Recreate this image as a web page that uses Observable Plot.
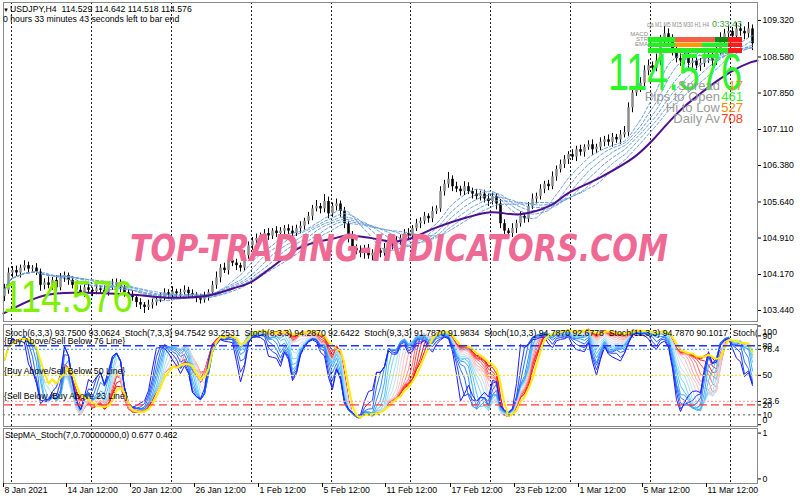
<!DOCTYPE html>
<html><head><meta charset="utf-8">
<script src="https://cdn.jsdelivr.net/npm/d3@7"></script>
<script src="https://cdn.jsdelivr.net/npm/@observablehq/plot@0.6"></script>
<style>
body{margin:0;background:#fff;}
#wrap{position:relative;width:800px;height:500px;overflow:hidden;background:#fff;}
#wrap svg{position:absolute;left:0;}
</style></head><body><div id="wrap"></div>
<script>
// ---------- data ----------
const open0 = 103.72;
const closes = `103.85 104.20 104.25 104.20 104.30 104.35 104.28 104.30 104.22 103.95
104.00 103.95 104.05 103.90 104.10 104.15 104.05 103.95 103.85 103.80
103.90 103.85 103.82 103.88 103.85 103.80 103.90 103.95 104.00 103.90
103.80 103.75 103.70 103.60 103.55 103.50 103.55 103.60 103.65 103.70
103.80 103.75 103.82 103.78 103.80 103.85 103.78 103.75 103.70 103.65
103.72 103.80 103.95 104.10 104.30 104.25 104.45 104.40 104.35 104.30
104.55 104.75 104.85 104.90 104.95 105.00 104.95 105.05 105.00 105.05
105.10 105.05 105.00 105.10 105.15 105.25 105.35 105.50 105.55 105.50
105.65 105.40 105.55 105.60 105.45 105.20 104.95 104.70 104.65 104.60
104.70 104.55 104.60 104.65 104.60 104.70 104.80 104.75 104.85 104.90
105.00 104.95 105.10 105.20 105.25 105.35 105.30 105.45 105.50 105.85
106.00 106.10 105.95 105.90 105.85 105.95 105.85 105.80 105.75 105.80
105.70 105.65 105.75 105.60 105.20 105.05 105.00 105.10 105.20 105.35
105.30 105.55 105.70 105.75 105.90 106.00 105.95 106.15 106.30 106.40
106.50 106.60 106.55 106.70 106.65 106.75 106.80 106.70 106.75 106.85
106.90 106.85 106.95 106.90 107.00 107.05 107.55 107.85 107.95 108.05
108.30 108.40 108.35 108.50 108.90 109.05 108.95 108.70 108.55 108.50
108.60 108.45 108.50 108.40 108.45 108.55 108.60 108.50 108.70 108.95
109.05 109.10 109.00 109.15 109.10 109.05 109.15 108.85`.trim().split(/\s+/).map(Number);
// wick lengths in pips (0.01)
const upperWick = `12 10 8 9 6 10 7 5 9 6 8 12 6 10 9 7 5 8 6 9 7 10 5 8 6 9 7 12 8 6 5 7 9 6 8 5 10 7 6 9
8 6 10 5 7 9 6 8 5 7 9 6 8 12 7 10 6 9 8 5 10 8 7 9 6 8 10 5 9 7 6 8 10 7 9 6 8 7 12 6
14 9 7 10 6 8 5 9 7 10 6 8 7 9 5 10 8 6 9 7 8 10 6 9 7 8 5 9 6 10 8 14 7 9 6 10 8 7 9 6
8 10 7 6 9 8 5 10 7 9 6 8 10 7 9 6 8 10 7 9 8 6 10 7 9 5 8 10 6 9 7 10 8 6 9 12 10 8 9 11
10 12 8 14 12 15 10 8 12 9 10 7 12 8 10 9 11 8 10 12 9 11 8 12 10 9 13 8`.trim().split(/\s+/).map(Number);
const lowerWick = `10 8 9 7 10 6 9 8 7 12 9 7 10 8 6 9 10 7 8 6 9 7 10 6 8 9 7 5 8 10 9 8 7 10 9 12 6 8 7 5
6 9 7 10 8 6 9 7 10 8 6 9 7 8 10 6 9 7 10 8 6 7 9 8 10 6 9 7 8 10 9 7 8 6 10 8 7 9 6 10
8 10 7 9 12 10 14 10 8 9 12 7 10 8 9 6 10 8 7 9 7 9 8 6 10 7 9 8 6 7 9 8 10 7 9 8 6 10 7 9
8 10 7 12 10 14 9 8 10 7 9 8 6 10 7 9 8 6 9 7 8 10 7 9 8 10 6 12 8 7 9 8 10 7 9 6 8 10 7 9
8 10 9 7 10 9 12 10 9 11 8 12 10 9 11 8 10 12 9 8 10 9 11 8 10 12 9 14`.trim().split(/\s+/).map(Number);

// slow moving average (purple) read at key bars
const maIdx = [-0.25, 9.75, 19, 32.25, 41.5, 50.75, 57.25, 61.5, 65.75, 74, 82.25, 85.75, 90.75, 97.25, 101.5, 107.25, 115.75, 121.5, 129, 136.5, 140.75, 149, 157.25, 161.5, 165.75, 169.75, 174, 178.25, 182.25, 186.5, 188.25];
const maVal = [103.38, 103.74, 103.80, 103.76, 103.70, 103.74, 103.89, 104.01, 104.25, 104.72, 104.90, 104.96, 104.92, 104.84, 104.90, 105.10, 105.33, 105.43, 105.39, 105.57, 105.81, 106.14, 106.54, 106.85, 107.23, 107.56, 107.84, 108.10, 108.31, 108.47, 108.51];
const ribbonPeriods = [10, 13, 16, 19, 22, 25];

const priceTicks = [109.32, 108.58, 107.85, 107.11, 106.38, 105.64, 104.91, 104.17, 103.44];
const gridIdx = [1.75, 21.75, 41.75, 61.75, 81.75, 101.5, 121.5, 141.5, 161.5, 181.5];
const xTickIdx = [-0.25, 15.5, 31.5, 47.5, 63.5, 79.5, 95.25, 111.5, 127.5, 143.5, 159.5, 175.5];
const xTickLabels = ["8 Jan 2021", "14 Jan 12:00", "20 Jan 12:00", "26 Jan 12:00", "1 Feb 12:00", "5 Feb 12:00", "11 Feb 12:00", "17 Feb 12:00", "23 Feb 12:00", "1 Mar 12:00", "5 Mar 12:00", "11 Mar 12:00"];

const stochPeriods = [4, 5, 6, 7, 8, 9, 10, 11, 12, 13, 14, 15, 16, 17, 18, 19, 20, 21];
const stochYellowPeriod = 21;
const stochLevels = [100, 90, 80, 76.4, 50, 23.6, 20, 10, 0];
const stepTicks = [0, 1];

const headerText = "USDJPY,H4  114.529 114.642 114.518 114.576";
const timerText = "0 hours 33 minutes 43 seconds left to bar end";
const stochHeader = "Stoch(6,3,3) 93.7500 93.0624  Stoch(7,3,3) 94.7542 93.2531  Stoch(8,3,3) 94.2870 92.6422  Stoch(9,3,3) 91.7870 91.9834  Stoch(10,3,3) 94.7870 92.6778  Stoch(11,3,3) 94.7870 90.1017  Stoch(12,3,3) 94.7870 89.6612";
const stochNotes = ["{Buy Above/Sell Below 76 Line}", "{Buy Above/Sell Below 50 Line}", "{Sell Below /Buy Above 23 Line}"];
const stepHeader = "StepMA_Stoch(7,0.70000000,0) 0.677 0.462";
const lastPrice = "114.576";
const infoLabels = ["Spread", "Pips to Open", "Hi to Low", "Daily Av"];
const infoValues = ["17", "461", "527", "708"];
const watermark = "TOP-TRADING-INDICATORS.COM";

if (upperWick.length !== closes.length || lowerWick.length !== closes.length)
  throw new Error("length mismatch " + closes.length + " " + upperWick.length + " " + lowerWick.length);

// ---------- derived ----------
const bars = closes.map((c, i) => {
  const o = i ? closes[i - 1] : open0;
  return {i, o, c, h: Math.max(o, c) + upperWick[i] / 100, l: Math.min(o, c) - lowerWick[i] / 100};
});
const N = bars.length;
const xDomain = [-0.25, N + 0.25];
const FONT = '"Liberation Sans", Arial, sans-serif';
const baseStyle = {fontFamily: FONT, fontSize: "8.7px", background: "transparent", color: "#000", overflow: "visible"};

function stochK(n, s) {
  const raw = bars.map((b, i) => {
    const w = bars.slice(Math.max(0, i - n + 1), i + 1);
    const ll = d3.min(w, d => d.l), hh = d3.max(w, d => d.h);
    return {num: b.c - ll, den: hh - ll};
  });
  return raw.map((r, i) => {
    const w = raw.slice(Math.max(0, i - s + 1), i + 1);
    const den = d3.sum(w, d => d.den);
    return {i, v: den ? 100 * d3.sum(w, d => d.num) / den : 50};
  });
}
const ramp = d3.interpolateRgbBasis(["#1a1aff", "#2a7dff", "#3cc0ff", "#b8ecff", "#ffd2d2", "#ff8a8a", "#ff2a2a", "#ff0000"]);

const grid = () => Plot.ruleX(gridIdx, {stroke: "#222", strokeWidth: 1, strokeDasharray: "2,2"});

// ---------- main price panel ----------
const main = Plot.plot({
  width: 800, height: 323,
  marginLeft: 3, marginRight: 43, marginTop: 2, marginBottom: 2,
  style: baseStyle,
  x: {domain: xDomain, axis: null, label: null},
  y: {domain: [103.217, 109.685], label: null},
  marks: [
    grid(),
    Plot.ruleX(bars, {x: "i", y1: "l", y2: "h", stroke: "#000", strokeWidth: 1}),
    Plot.ruleX(bars.filter(b => b.c >= b.o), {x: "i", y1: "o", y2: "c", stroke: "#8f8f8f", strokeWidth: 2.6}),
    Plot.ruleX(bars.filter(b => b.c < b.o), {x: "i", y1: "o", y2: "c", stroke: "#000", strokeWidth: 2.6}),
    ...ribbonPeriods.map(k => Plot.lineY(bars, Plot.windowY({k, anchor: "end"}, {x: "i", y: "c", stroke: "#6c9fd8", strokeWidth: 1, strokeDasharray: "3,2"}))),
    Plot.line(maIdx.map((x, j) => ({x, y: maVal[j]})), {x: "x", y: "y", stroke: "#4b0f8f", strokeWidth: 2, curve: "catmull-rom"}),
    Plot.frame({stroke: "#8a8a8a"}),
    Plot.axisY(priceTicks, {anchor: "right", tickSize: 3, tickPadding: 2, tickFormat: d3.format(".3f")})
  ]
});
main.style.top = "0px";

// ---------- stochastic panel ----------
const stochLines = stochPeriods.map((p, j) => Plot.line(stochK(p, 2), {
  x: "i", y: "v", stroke: ramp(j / (stochPeriods.length - 1)), strokeWidth: 1
})).reverse();
const stochPlot = Plot.plot({
  width: 800, height: 104,
  marginLeft: 3, marginRight: 43, marginTop: 1, marginBottom: 1,
  style: baseStyle,
  x: {domain: xDomain, axis: null, label: null},
  y: {domain: [-1.8, 101.5], label: null},
  marks: [
    grid(),
    ...stochLines,
    Plot.line(stochK(stochYellowPeriod, 3), {x: "i", y: "v", stroke: "#ffee00", strokeWidth: 2}),
    Plot.ruleY([stochLevels[2]], {stroke: "#2e2eff", strokeWidth: 1.3, strokeDasharray: "8,4"}),
    Plot.ruleY([stochLevels[3]], {stroke: "#5aa8ff", strokeWidth: 1.3, strokeDasharray: "2,2"}),
    Plot.ruleY([stochLevels[4]], {stroke: "#f4e23a", strokeWidth: 1.3, strokeDasharray: "2,2"}),
    Plot.ruleY([stochLevels[5]], {stroke: "#ffaaaa", strokeWidth: 1.3, strokeDasharray: "2,2"}),
    Plot.ruleY([stochLevels[6]], {stroke: "#ff3a3a", strokeWidth: 1.3, strokeDasharray: "8,4"}),
    Plot.ruleY([stochLevels[7]], {stroke: "#555", strokeWidth: 1, strokeDasharray: "2,3"}),
    Plot.frame({stroke: "#8a8a8a"}),
    Plot.axisY(stochLevels, {anchor: "right", tickSize: 3, tickPadding: 2, tickFormat: d => (d === 100 || d === 0) ? "" : String(d)}),
    Plot.text([stochLevels[0]], {y: d => d, text: d => String(d), frameAnchor: "right", dx: 5, dy: 6, textAnchor: "start"}),
    Plot.text([stochLevels[8]], {y: d => d, text: d => String(d), frameAnchor: "right", dx: 5, dy: -5, textAnchor: "start"})
  ]
});
stochPlot.style.top = "323px";

// ---------- StepMA panel + time axis ----------
const stepPlot = Plot.plot({
  width: 800, height: 73,
  marginLeft: 3, marginRight: 43, marginTop: 1, marginBottom: 17,
  style: baseStyle,
  x: {domain: xDomain, label: null},
  y: {domain: [-0.1, 1.1], label: null},
  marks: [
    grid(),
    Plot.frame({stroke: "#8a8a8a"}),
    Plot.axisY(stepTicks, {anchor: "right", tickSize: 3, tickPadding: 2, tickFormat: d => String(d)}),
    Plot.axisX(xTickIdx, {anchor: "bottom", tickSize: 4, tickFormat: () => ""}),
    Plot.text(xTickIdx, {x: d => d, text: (d, i) => xTickLabels[i], frameAnchor: "bottom", dy: 9, dx: 1, textAnchor: "start"})
  ]
});
stepPlot.style.top = "427px";

const wrap = document.getElementById("wrap");
wrap.append(main, stochPlot, stepPlot);

// ---------- text overlays (indicator labels drawn on the chart) ----------
const ov = d3.create("svg").attr("width", 800).attr("height", 500)
  .style("top", "0px").style("pointer-events", "none").style("font-family", FONT);
function t(x, y, s, a = {}) {
  const e = ov.append("text").attr("x", x).attr("y", y).text(s)
    .style("white-space", "pre").attr("font-size", a.size || 8.7).attr("fill", a.fill || "#000");
  if (a.anchor) e.attr("text-anchor", a.anchor);
  if (a.len) e.attr("textLength", a.len).attr("lengthAdjust", "spacingAndGlyphs");
  if (a.family) e.style("font-family", a.family);
  if (a.weight) e.attr("font-weight", a.weight);
  if (a.italic) e.attr("font-style", "italic");
  if (a.transform) e.attr("transform", a.transform);
  return e;
}
t(3, 12, "\u25BC", {size: 6});
t(10, 12, headerText);
t(3, 22, timerText);

// stochastic header (clipped to panel)
const clip = ov.append("svg").attr("x", 3).attr("y", 324).attr("width", 754).attr("height", 102).style("overflow", "hidden");
clip.append("text").attr("x", 2).attr("y", 12).attr("font-size", 8.7).style("white-space", "pre").text(stochHeader);
t(4, 344, stochNotes[0]);
t(4, 374, stochNotes[1]);
t(4, 399, stochNotes[2]);
t(5, 438, stepHeader);

// dashboard widget top right
t(647, 27, "cja M1 M5 M15 M30 H1 H4", {size: 7, fill: "#8a8a8a", len: 62});
t(712, 27, "0:33:43", {size: 9, fill: "#3f9f3f"});
t(648, 35.5, "MACD", {size: 6, fill: "#8a8a8a", anchor: "end"});
t(648, 41, "STR", {size: 6, fill: "#8a8a8a", anchor: "end"});
t(648, 46, "EMA", {size: 6, fill: "#8a8a8a", anchor: "end"});
[[37, 5, [[648, 675, "#22ee22"], [675, 715, "#f4604a"], [715, 728, "#138a13"], [728, 742, "#ff1a1a"]]],
 [42.5, 4.5, [[648, 675, "#22ee22"], [675, 702, "#ff9a00"], [702, 728, "#22ee22"], [728, 742, "#ff1a1a"]]],
 [48, 5, [[648, 728, "#22ee22"], [728, 742, "#ff1a1a"]]]].forEach(([y, h, segs]) =>
  segs.forEach(([a, b, c]) => ov.append("rect").attr("x", a).attr("y", y).attr("width", b - a).attr("height", h).attr("fill", c)));

t(0, 0, lastPrice, {size: 37, fill: "#2cf52c", len: 134, transform: "translate(608,90) scale(1,1.4)"});
const infoY = [89.5, 101, 111.7, 122.5];
const infoColors = ["#ff8c1a", "#33ee33", "#ff8800", "#ff3c1e"];
infoLabels.forEach((s, j) => {
  t(720, infoY[j], s, {size: 13, fill: "#9a9a9a", anchor: "end"});
  t(743, infoY[j], infoValues[j], {size: 13, fill: infoColors[j], anchor: "end"});
});

t(0, 0, watermark, {size: 29, fill: "#ee6a95", anchor: "middle", len: 538, family: '"DejaVu Sans", sans-serif', weight: "bold", italic: true, transform: "translate(399,261) scale(1,1.3)"});
t(0, 0, lastPrice, {size: 36, fill: "#7ff000", len: 130, transform: "translate(3,312) scale(1,1.25)"});

wrap.append(ov.node());
</script>
</body></html>
